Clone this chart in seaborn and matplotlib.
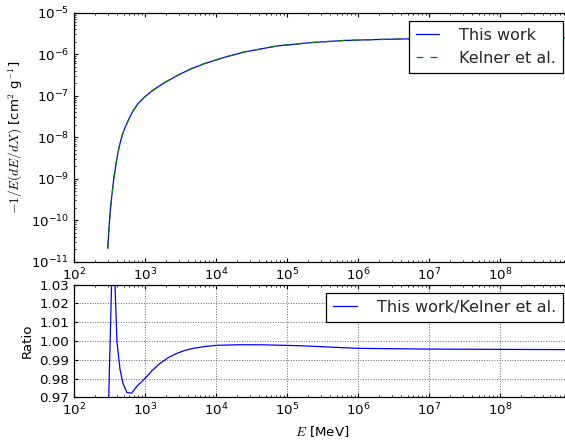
import numpy as np
import pandas as pd
import matplotlib
matplotlib.use("Agg")
import matplotlib.pyplot as plt
import seaborn as sns
from matplotlib.ticker import LogLocator, FixedLocator, FormatStrFormatter

# Energy-loss rate -1/E dE/dX for p-gamma pion production
energy_loss = [299, 309, 324, 340, 363, 398, 431, 470, 519, 582, 676, 805, 1000,
               1309, 1905, 2944, 4467, 7000, 13400, 24300, 71600, 2.11e5, 6.2e5,
               1.8e6, 4.9e6, 3e7, 1e8, 1e9]
loss_this_work = [2.1e-11, 5.6e-11, 1.66e-10, 3.7e-10, 1.0e-9, 2.8e-9, 5.75e-9,
                  1.02e-8, 1.66e-8, 2.57e-8, 4.27e-8, 6.6e-8, 9.5e-8, 1.38e-7,
                  2.09e-7, 3.16e-7, 4.47e-7, 6.0e-7, 8.5e-7, 1.12e-6, 1.58e-6,
                  1.9e-6, 2.14e-6, 2.26e-6, 2.34e-6, 2.40e-6, 2.43e-6, 2.45e-6]
loss_kelner = [2.1e-11, 5.6e-11, 1.66e-10, 3.7e-10, 1.0e-9, 2.8e-9, 5.75e-9,
               1.02e-8, 1.66e-8, 2.57e-8, 4.27e-8, 6.6e-8, 9.5e-8, 1.38e-7,
               2.09e-7, 3.16e-7, 4.47e-7, 6.0e-7, 8.5e-7, 1.12e-6, 1.58e-6,
               1.9e-6, 2.14e-6, 2.26e-6, 2.34e-6, 2.40e-6, 2.43e-6, 2.45e-6]

# Ratio of the two calculations
energy_ratio = [299, 354, 403, 444, 489, 557, 648, 762, 1055, 1260, 1630, 2140,
                2800, 3630, 4800, 7080, 10200, 20000, 42000, 1.5e5, 1e6, 1e7, 1e9]
ratio = [0.95, 1.06, 0.9995, 0.985, 0.9775, 0.9725, 0.9722, 0.9757, 0.981,
         0.9843, 0.9881, 0.9912, 0.9934, 0.9950, 0.9961, 0.9971, 0.9977,
         0.9980, 0.9980, 0.9975, 0.9961, 0.9957, 0.9954]

energy_ticks = [1e2, 1e3, 1e4, 1e5, 1e6, 1e7, 1e8]
top_ticks = [1e-11, 1e-10, 1e-9, 1e-8, 1e-7, 1e-6, 1e-5]
ratio_ticks = [0.97, 0.98, 0.99, 1.00, 1.01, 1.02, 1.03]

sns.set_style("ticks")
plt.rcParams.update({
    "font.family": ["DejaVu Sans"],
    "mathtext.fontset": "cm",
    "font.size": 9.6,
    "axes.linewidth": 0.9,
    "axes.edgecolor": "black",
    "axes.labelcolor": "black",
    "xtick.color": "black",
    "ytick.color": "black",
    "xtick.direction": "in",
    "ytick.direction": "in",
    "xtick.top": True,
    "ytick.right": True,
    "xtick.major.size": 3.2,
    "ytick.major.size": 3.2,
    "xtick.minor.size": 1.6,
    "ytick.minor.size": 1.6,
    "xtick.major.width": 0.8,
    "ytick.major.width": 0.8,
    "xtick.minor.width": 0.6,
    "ytick.minor.width": 0.6,
    "xtick.major.pad": 3.5,
    "ytick.major.pad": 3.5,
    "xtick.labelsize": 9.6,
    "ytick.labelsize": 9.6,
})

fig = plt.figure(figsize=(5.65, 4.47), dpi=100)
# the plot area runs slightly past the right edge of the canvas
ax1 = fig.add_axes([0.131, 0.4145, 0.8796, 0.557])
ax2 = fig.add_axes([0.131, 0.1112, 0.8796, 0.2518])

top_df = pd.DataFrame({"E": energy_loss, "this": loss_this_work, "kelner": loss_kelner})
ratio_df = pd.DataFrame({"E": energy_ratio, "ratio": ratio})

for ax in (ax1, ax2):
    ax.set_xscale("log")
    ax.set_xlim(1e2, 1e9)
    ax.xaxis.set_major_locator(FixedLocator(energy_ticks))
    ax.xaxis.set_minor_locator(LogLocator(base=10, subs=np.arange(2, 10), numticks=20))

legend_kw = dict(loc="upper right", fontsize=11.5, frameon=True, fancybox=False,
                 edgecolor="black", framealpha=1, handlelength=1.45,
                 borderpad=0.45, labelspacing=0.5, handletextpad=1.25,
                 borderaxespad=0.5)

ax1.set_yscale("log")
sns.lineplot(data=top_df, x="E", y="this", ax=ax1, color="#0000ff", lw=0.9,
             label="This work", estimator=None, sort=False)
sns.lineplot(data=top_df, x="E", y="kelner", ax=ax1, color="#008000", lw=0.9,
             linestyle=(0, (5.6, 5.6)), label="Kelner et al.", estimator=None,
             sort=False)
ax1.set_ylim(1e-11, 1e-5)
ax1.yaxis.set_major_locator(FixedLocator(top_ticks))
ax1.yaxis.set_minor_locator(LogLocator(base=10, subs=np.arange(2, 10), numticks=20))
ax1.set_xlabel("")
ax1.set_ylabel(r"$-1/E(dE/dX)$ [cm$^2$ g$^{-1}$]", fontsize=9.6)
leg1 = ax1.legend(**legend_kw)
leg1.get_frame().set_linewidth(0.9)

sns.lineplot(data=ratio_df, x="E", y="ratio", ax=ax2, color="#0000ff", lw=0.9,
             label="This work/Kelner et al.", estimator=None, sort=False)
ax2.set_ylim(0.97, 1.03)
ax2.yaxis.set_major_locator(FixedLocator(ratio_ticks))
ax2.yaxis.set_major_formatter(FormatStrFormatter("%.2f"))
ax2.grid(True, which="major", color="0.4", linestyle=":", linewidth=0.7)
ax2.set_xlabel(r"$E$ [MeV]", fontsize=9.6)
ax2.set_ylabel("Ratio", fontsize=9.6)
leg2 = ax2.legend(**legend_kw)
leg2.get_frame().set_linewidth(0.9)

fig.savefig("out.png", dpi=100)
